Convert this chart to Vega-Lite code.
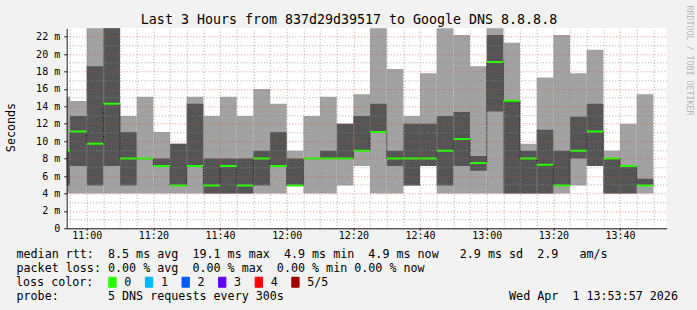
{
  "$schema": "https://vega.github.io/schema/vega-lite/v6.json",
  "autosize": {"type": "none"},
  "padding": {"left": 66.7, "top": 28.3, "right": 30.3, "bottom": 81.7},
  "width": 600,
  "height": 200,
  "background": "#f2f2f2",
  "config": {
    "view": {"stroke": null, "fill": "white"},
    "font": "DejaVu Sans Mono"
  },
  "data": {
    "values": [
      {"t": "2026-04-01T10:50:00Z", "t2": "2026-04-01T10:55:00Z", "lo": 4.0, "q1": 4.9, "med": 8.9, "q3": 8.9, "hi": 15.1, "loss": "0"},
      {"t": "2026-04-01T10:55:00Z", "t2": "2026-04-01T11:00:00Z", "lo": 4.0, "q1": 7.15, "med": 11.1, "q3": 12.9, "hi": 14.6, "loss": "0"},
      {"t": "2026-04-01T11:00:00Z", "t2": "2026-04-01T11:05:00Z", "lo": 4.0, "q1": 4.9, "med": 9.7, "q3": 18.6, "hi": 24, "loss": "0"},
      {"t": "2026-04-01T11:05:00Z", "t2": "2026-04-01T11:10:00Z", "lo": 4.0, "q1": 7.15, "med": 14.3, "q3": 24, "hi": 26, "loss": "0"},
      {"t": "2026-04-01T11:10:00Z", "t2": "2026-04-01T11:15:00Z", "lo": 4.0, "q1": 4.9, "med": 8.0, "q3": 11.05, "hi": 12.9, "loss": "0"},
      {"t": "2026-04-01T11:15:00Z", "t2": "2026-04-01T11:20:00Z", "lo": 4.0, "q1": 8.0, "med": 8.0, "q3": 8.0, "hi": 15.1, "loss": "0"},
      {"t": "2026-04-01T11:20:00Z", "t2": "2026-04-01T11:25:00Z", "lo": 4.0, "q1": 7.15, "med": 7.15, "q3": 8.0, "hi": 11.05, "loss": "0"},
      {"t": "2026-04-01T11:25:00Z", "t2": "2026-04-01T11:30:00Z", "lo": 4.0, "q1": 4.9, "med": 4.9, "q3": 9.7, "hi": 9.7, "loss": "0"},
      {"t": "2026-04-01T11:30:00Z", "t2": "2026-04-01T11:35:00Z", "lo": 4.0, "q1": 7.15, "med": 7.15, "q3": 14.3, "hi": 15.1, "loss": "0"},
      {"t": "2026-04-01T11:35:00Z", "t2": "2026-04-01T11:40:00Z", "lo": 4.0, "q1": 4.0, "med": 4.9, "q3": 8.0, "hi": 12.9, "loss": "0"},
      {"t": "2026-04-01T11:40:00Z", "t2": "2026-04-01T11:45:00Z", "lo": 4.0, "q1": 4.0, "med": 7.15, "q3": 8.0, "hi": 15.1, "loss": "0"},
      {"t": "2026-04-01T11:45:00Z", "t2": "2026-04-01T11:50:00Z", "lo": 4.0, "q1": 4.0, "med": 4.9, "q3": 8.0, "hi": 12.9, "loss": "0"},
      {"t": "2026-04-01T11:50:00Z", "t2": "2026-04-01T11:55:00Z", "lo": 4.0, "q1": 4.9, "med": 8.0, "q3": 8.9, "hi": 16.0, "loss": "0"},
      {"t": "2026-04-01T11:55:00Z", "t2": "2026-04-01T12:00:00Z", "lo": 4.0, "q1": 7.15, "med": 7.15, "q3": 11.05, "hi": 14.3, "loss": "0"},
      {"t": "2026-04-01T12:00:00Z", "t2": "2026-04-01T12:05:00Z", "lo": 4.9, "q1": 4.9, "med": 4.9, "q3": 8.0, "hi": 8.9, "loss": "0"},
      {"t": "2026-04-01T12:05:00Z", "t2": "2026-04-01T12:10:00Z", "lo": 4.0, "q1": 8.0, "med": 8.0, "q3": 8.0, "hi": 12.9, "loss": "0"},
      {"t": "2026-04-01T12:10:00Z", "t2": "2026-04-01T12:15:00Z", "lo": 4.0, "q1": 8.0, "med": 8.0, "q3": 8.9, "hi": 15.1, "loss": "0"},
      {"t": "2026-04-01T12:15:00Z", "t2": "2026-04-01T12:20:00Z", "lo": 4.9, "q1": 8.0, "med": 8.0, "q3": 12.0, "hi": 12.0, "loss": "0"},
      {"t": "2026-04-01T12:20:00Z", "t2": "2026-04-01T12:25:00Z", "lo": 7.15, "q1": 8.9, "med": 8.9, "q3": 12.9, "hi": 15.4, "loss": "0"},
      {"t": "2026-04-01T12:25:00Z", "t2": "2026-04-01T12:30:00Z", "lo": 4.0, "q1": 11.05, "med": 11.05, "q3": 14.3, "hi": 24, "loss": "0"},
      {"t": "2026-04-01T12:30:00Z", "t2": "2026-04-01T12:35:00Z", "lo": 4.0, "q1": 7.15, "med": 8.0, "q3": 8.9, "hi": 18.3, "loss": "0"},
      {"t": "2026-04-01T12:35:00Z", "t2": "2026-04-01T12:40:00Z", "lo": 4.9, "q1": 4.9, "med": 8.0, "q3": 12.0, "hi": 12.9, "loss": "0"},
      {"t": "2026-04-01T12:40:00Z", "t2": "2026-04-01T12:45:00Z", "lo": 7.15, "q1": 7.15, "med": 8.0, "q3": 12.0, "hi": 17.8, "loss": "0"},
      {"t": "2026-04-01T12:45:00Z", "t2": "2026-04-01T12:50:00Z", "lo": 4.0, "q1": 4.9, "med": 8.9, "q3": 12.9, "hi": 24, "loss": "0"},
      {"t": "2026-04-01T12:50:00Z", "t2": "2026-04-01T12:55:00Z", "lo": 4.0, "q1": 7.15, "med": 10.25, "q3": 13.35, "hi": 22.2, "loss": "0"},
      {"t": "2026-04-01T12:55:00Z", "t2": "2026-04-01T13:00:00Z", "lo": 4.0, "q1": 6.6, "med": 7.5, "q3": 8.3, "hi": 18.6, "loss": "0"},
      {"t": "2026-04-01T13:00:00Z", "t2": "2026-04-01T13:05:00Z", "lo": 4.0, "q1": 13.4, "med": 19.1, "q3": 22.2, "hi": 24, "loss": "0"},
      {"t": "2026-04-01T13:05:00Z", "t2": "2026-04-01T13:10:00Z", "lo": 4.0, "q1": 4.0, "med": 14.65, "q3": 14.65, "hi": 21.3, "loss": "0"},
      {"t": "2026-04-01T13:10:00Z", "t2": "2026-04-01T13:15:00Z", "lo": 4.0, "q1": 4.0, "med": 8.0, "q3": 8.9, "hi": 9.7, "loss": "0"},
      {"t": "2026-04-01T13:15:00Z", "t2": "2026-04-01T13:20:00Z", "lo": 4.0, "q1": 4.0, "med": 7.3, "q3": 11.3, "hi": 17.3, "loss": "0"},
      {"t": "2026-04-01T13:20:00Z", "t2": "2026-04-01T13:25:00Z", "lo": 4.0, "q1": 4.9, "med": 4.9, "q3": 8.9, "hi": 22.2, "loss": "0"},
      {"t": "2026-04-01T13:25:00Z", "t2": "2026-04-01T13:30:00Z", "lo": 4.9, "q1": 8.0, "med": 8.9, "q3": 12.8, "hi": 17.8, "loss": "0"},
      {"t": "2026-04-01T13:30:00Z", "t2": "2026-04-01T13:35:00Z", "lo": 7.15, "q1": 7.15, "med": 11.1, "q3": 14.3, "hi": 20.5, "loss": "0"},
      {"t": "2026-04-01T13:35:00Z", "t2": "2026-04-01T13:40:00Z", "lo": 4.0, "q1": 4.0, "med": 8.0, "q3": 8.0, "hi": 8.9, "loss": "0"},
      {"t": "2026-04-01T13:40:00Z", "t2": "2026-04-01T13:45:00Z", "lo": 4.0, "q1": 4.0, "med": 7.15, "q3": 7.15, "hi": 12.0, "loss": "0"},
      {"t": "2026-04-01T13:45:00Z", "t2": "2026-04-01T13:50:00Z", "lo": 4.0, "q1": 4.9, "med": 4.9, "q3": 5.7, "hi": 15.4, "loss": "0"}
    ]
  },
  "resolve": {"axis": {"x": "independent", "y": "independent"}},
  "layer": [
    {
      "mark": {"type": "rect", "color": "#a2a2a2", "clip": true},
      "encoding": {
        "x": {
          "field": "t", "type": "temporal",
          "scale": {"type": "utc", "domain": [1775040840000, 1775051640000], "nice": false},
          "axis": {
            "orient": "bottom",
            "values": [1775041200000, 1775042400000, 1775043600000, 1775044800000, 1775046000000, 1775047200000, 1775048400000, 1775049600000, 1775050800000],
            "labelExpr": "utcFormat(datum.value, '%H:%M')",
            "labelFont": "DejaVu Sans Mono", "labelFontSize": 10, "labelColor": "#000000",
            "labelPadding": 0, "labelFlush": false, "labelOverlap": false,
            "tickSize": 2, "tickColor": "#1f1f1f", "domainColor": "#1f1f1f",
            "grid": true, "gridColor": "#de4f4f", "gridOpacity": 0.6, "gridDash": [1, 2],
            "zindex": 1,
            "title": [
              "median\u00a0rtt:\u00a0\u00a08.5\u00a0ms\u00a0avg\u00a0\u00a019.1\u00a0ms\u00a0max\u00a0\u00a04.9\u00a0ms\u00a0min\u00a0\u00a04.9\u00a0ms\u00a0now\u00a0\u00a0\u00a02.9\u00a0ms\u00a0sd\u00a0\u00a02.9\u00a0\u00a0\u00a0am/s",
              "packet\u00a0loss:\u00a00.00\u00a0%\u00a0avg\u00a0\u00a00.00\u00a0%\u00a0max\u00a0\u00a00.00\u00a0%\u00a0min\u00a00.00\u00a0%\u00a0now"
            ],
            "titleFont": "DejaVu Sans Mono", "titleFontSize": 11.7, "titleFontWeight": "normal", "titleColor": "#000000",
            "titleAnchor": null, "titleAlign": "left", "titleBaseline": "alphabetic",
            "titleX": -50.7, "titleY": 29.4, "titleLineHeight": 14, "titleLimit": 1000
          }
        },
        "x2": {"field": "t2"},
        "y": {
          "field": "lo", "type": "quantitative",
          "scale": {"domain": [0, 22.96], "nice": false, "zero": true},
          "axis": {
            "orient": "left",
            "values": [0, 2, 4, 6, 8, 10, 12, 14, 16, 18, 20, 22],
            "labelExpr": "datum.value == 0 ? '0' : datum.value + ' m'",
            "labelFont": "DejaVu Sans Mono", "labelFontSize": 10, "labelColor": "#000000",
            "labelPadding": 4, "labelFlush": false, "labelOverlap": false,
            "tickSize": 3, "tickColor": "#1f1f1f", "domainColor": "#1f1f1f",
            "grid": true, "gridColor": "#de4f4f", "gridOpacity": 0.6, "gridDash": [1, 2],
            "zindex": 1,
            "title": "Seconds",
            "titleFont": "DejaVu Sans Mono", "titleFontSize": 11.7, "titleFontWeight": "normal", "titleColor": "#000000",
            "titleAngle": 270, "titleAlign": "center", "titleBaseline": "middle",
            "titleX": -55.7, "titleY": 98.7
          }
        },
        "y2": {"field": "hi"}
      }
    },
    {
      "mark": {"type": "rect", "color": "#555555", "clip": true},
      "encoding": {
        "x": {
          "field": "t", "type": "temporal",
          "axis": {
            "orient": "top",
            "values": [1775040900000, 1775041500000, 1775041800000, 1775042100000, 1775042700000, 1775043000000, 1775043300000, 1775043900000, 1775044200000, 1775044500000, 1775045100000, 1775045400000, 1775045700000, 1775046300000, 1775046600000, 1775046900000, 1775047500000, 1775047800000, 1775048100000, 1775048700000, 1775049000000, 1775049300000, 1775049900000, 1775050200000, 1775050500000, 1775051100000, 1775051400000],
            "labels": false, "ticks": false, "domain": false,
            "grid": true, "gridColor": "#8f8f8f", "gridOpacity": 0.75, "gridDash": [1, 2],
            "zindex": 1,
            "title": "Last 3 Hours from 837d29d39517 to Google DNS 8.8.8.8",
            "titleFont": "DejaVu Sans Mono", "titleFontSize": 13.3, "titleFontWeight": "normal", "titleColor": "#000000",
            "titleAnchor": null, "titleAlign": "center", "titleBaseline": "alphabetic",
            "titleX": 281.8, "titleY": -4.6, "titleLimit": 1000
          }
        },
        "x2": {"field": "t2"},
        "y": {
          "field": "q1", "type": "quantitative",
          "axis": {
            "orient": "right",
            "values": [1, 3, 5, 7, 9, 11, 13, 15, 17, 19, 21],
            "labels": false, "ticks": false, "domain": false,
            "grid": true, "gridColor": "#8f8f8f", "gridOpacity": 0.75, "gridDash": [1, 2],
            "zindex": 1,
            "title": "RRDTOOL / TOBI OETIKER",
            "titleFont": "DejaVu Sans Mono", "titleFontSize": 8.3, "titleFontWeight": "normal", "titleColor": "#b5b5b5",
            "titleAngle": 90, "titleAlign": "center", "titleBaseline": "middle",
            "titleX": 21.3, "titleY": 31.7
          }
        },
        "y2": {"field": "q3"}
      }
    },
    {
      "mark": {"type": "line", "interpolate": "step-after", "color": "#000000", "strokeWidth": 1, "strokeDash": [1, 1], "clip": true},
      "encoding": {
        "x": {
          "field": "t", "type": "temporal",
          "axis": {
            "orient": "bottom",
            "labels": false, "ticks": false, "domain": false, "grid": false,
            "title": "probe:\u00a0\u00a0\u00a0\u00a0\u00a0\u00a0\u00a05\u00a0DNS\u00a0requests\u00a0every\u00a0300s\u00a0\u00a0\u00a0\u00a0\u00a0\u00a0\u00a0\u00a0\u00a0\u00a0\u00a0\u00a0\u00a0\u00a0\u00a0\u00a0\u00a0\u00a0\u00a0\u00a0\u00a0\u00a0\u00a0\u00a0\u00a0\u00a0\u00a0\u00a0\u00a0\u00a0\u00a0\u00a0Wed\u00a0Apr\u00a0\u00a01\u00a013:53:57\u00a02026",
            "titleFont": "DejaVu Sans Mono", "titleFontSize": 11.7, "titleFontWeight": "normal", "titleColor": "#000000",
            "titleAnchor": null, "titleAlign": "left", "titleBaseline": "alphabetic",
            "titleX": -50.7, "titleY": 71.4, "titleLimit": 1000
          }
        },
        "y": {"field": "med", "type": "quantitative", "axis": null}
      }
    },
    {
      "mark": {"type": "rule", "strokeWidth": 2, "strokeCap": "butt", "clip": true},
      "encoding": {
        "x": {"field": "t", "type": "temporal", "axis": null},
        "x2": {"field": "t2"},
        "y": {"field": "med", "type": "quantitative", "axis": null},
        "color": {
          "field": "loss", "type": "nominal",
          "scale": {"domain": ["0", "1", "2", "3", "4", "5/5"], "range": ["#26ff00", "#00b8ff", "#0059ff", "#5e00ff", "#ff0000", "#a00000"]},
          "legend": {
            "orient": "none", "legendX": -50.7, "legendY": 248,
            "direction": "horizontal", "columns": 6, "padding": 0,
            "title": "loss color:", "titleOrient": "left", "titlePadding": 12.6,
            "titleFont": "DejaVu Sans Mono", "titleFontSize": 11.7, "titleFontWeight": "normal", "titleColor": "#000000",
            "titleBaseline": "middle",
            "labelFont": "DejaVu Sans Mono", "labelFontSize": 11.7, "labelColor": "#000000",
            "labelOffset": 6, "columnPadding": 11.6,
            "symbolType": "M-0.73,-1H0.73V1H-0.73Z", "symbolSize": 100,
            "symbolStrokeColor": "#000000", "symbolStrokeWidth": 1,
            "encode": {
              "symbols": {
                "update": {
                  "fill": {"scale": "color", "field": "value"},
                  "fillOpacity": {"value": 1},
                  "stroke": {"value": "#000000"},
                  "strokeWidth": {"value": 1}
                }
              }
            }
          }
        }
      }
    }
  ]
}
